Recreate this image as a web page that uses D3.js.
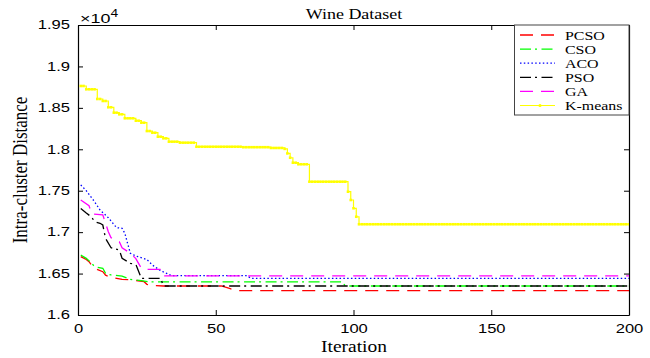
<!DOCTYPE html>
<html>
<head>
<meta charset="utf-8">
<script src="https://cdn.jsdelivr.net/npm/d3@7/dist/d3.min.js"></script>
<style>
  html, body { margin: 0; padding: 0; background: #fff; }
  svg { display: block; }
</style>
</head>
<body>
<svg id="chart" width="650" height="358"></svg>
<script>
// Convergence of intra-cluster distance (x 10^4) on the Wine dataset
const xTicks = [0, 50, 100, 150, 200];
const yTicks = [1.6, 1.65, 1.7, 1.75, 1.8, 1.85, 1.9, 1.95];
const yTickLabels = ["1.6", "1.65", "1.7", "1.75", "1.8", "1.85", "1.9", "1.95"];
const seriesNames = ["PCSO", "CSO", "ACO", "PSO", "GA", "K-means"];

const pcsoIter = [1, 3, 4, 5, 6, 9, 10, 12, 16, 19, 20, 24, 25, 27, 31, 52, 55, 58, 200];
const pcsoVal  = [1.6704, 1.667, 1.6643, 1.660, 1.6564, 1.6523, 1.648, 1.6455, 1.643, 1.6425, 1.6422, 1.6402, 1.637, 1.6355, 1.635, 1.635, 1.632, 1.6293, 1.6293];

const csoIter = [1, 3, 5, 6, 9, 10, 12, 16, 19, 23, 26, 96, 97, 200];
const csoVal  = [1.6724, 1.6684, 1.6624, 1.6583, 1.6564, 1.6503, 1.6483, 1.647, 1.643, 1.6414, 1.640, 1.640, 1.635, 1.635];

const acoIter = [1, 3, 6, 8, 11, 14, 16, 17, 18, 19, 21, 25, 27, 30, 34, 61, 63, 200];
const acoVal  = [1.757, 1.750, 1.7367, 1.7267, 1.7174, 1.7054, 1.7046, 1.6986, 1.6865, 1.6745, 1.6712, 1.667, 1.6603, 1.6535, 1.6475, 1.6475, 1.6443, 1.6443];

const psoIter = [1, 3, 5, 6, 8, 9, 10, 12, 15, 16, 19, 21, 23, 30, 31, 200];
const psoVal  = [1.7285, 1.7231, 1.718, 1.7126, 1.7107, 1.7086, 1.6925, 1.6812, 1.6784, 1.6684, 1.6624, 1.661, 1.6443, 1.6443, 1.635, 1.635];

const gaIter = [1, 4, 5, 9, 10, 11, 12, 15, 16, 19, 21, 23, 25, 30, 31, 200];
const gaVal  = [1.7388, 1.7319, 1.722, 1.7208, 1.711, 1.7006, 1.6933, 1.6885, 1.681, 1.6745, 1.668, 1.6564, 1.6551, 1.6551, 1.6471, 1.6471];

const kmIter = [1, 3, 7, 9, 11, 13, 15, 17, 21, 23, 25, 27, 29, 31, 33, 37, 43, 60, 70, 75, 76, 77, 78, 80, 84, 98, 99, 100, 101, 102, 200];
const kmVal  = [1.8764, 1.8724, 1.8607, 1.8583, 1.8507, 1.8442, 1.8422, 1.8374, 1.8345, 1.8321, 1.822, 1.820, 1.8152, 1.8132, 1.8092, 1.808, 1.8031, 1.8025, 1.8016, 1.8005, 1.795, 1.7898, 1.7838, 1.7819, 1.7609, 1.7488, 1.7388, 1.7288, 1.7186, 1.7095, 1.7095];

const svg = d3.select("#chart");
const L = 78, R = 629, T = 25, B = 315;
const x = d3.scaleLinear().domain([0, 200]).range([L, R]);
const y = d3.scaleLinear().domain([1.6, 1.95]).range([B, T]);

const SANS = "'Liberation Sans', Arial, sans-serif";
const SERIF = "'Liberation Serif', 'Times New Roman', serif";
const SX = 1.38;   // horizontal widening of the axis numerals
const SXS = 1.18;  // horizontal widening of the serif captions

const styles = [
  { name: "PCSO", color: "#ff0000", dash: "13,8" },
  { name: "CSO", color: "#00ff00", dash: "11,4,2,4.5" },
  { name: "ACO", color: "#0000ff", dash: "1.5,2.3" },
  { name: "PSO", color: "#000000", dash: "11,4,2,4.5" },
  { name: "GA", color: "#ff00ff", dash: "13,8" },
  { name: "K-means", color: "#ffff00", dash: null }
];

const zip = (it, v) => it.map((d, i) => ({ i: d, v: v[i] }));
const series = [
  zip(pcsoIter, pcsoVal), zip(csoIter, csoVal), zip(acoIter, acoVal),
  zip(psoIter, psoVal), zip(gaIter, gaVal), zip(kmIter, kmVal)
];

// axes: ticks point inward, box closed on all four sides
const gx = svg.append("g").attr("transform", `translate(0,${B})`)
  .call(d3.axisBottom(x).tickValues(xTicks).tickSizeInner(-5).tickSizeOuter(0).tickPadding(9));
const gy = svg.append("g").attr("transform", `translate(${L},0)`)
  .call(d3.axisLeft(y).tickValues(yTicks).tickFormat((d, i) => yTickLabels[i])
    .tickSizeInner(-5).tickSizeOuter(0).tickPadding(8));
const gt = svg.append("g").attr("transform", `translate(0,${T})`)
  .call(d3.axisTop(x).tickValues(xTicks).tickSizeInner(-5).tickSizeOuter(0).tickFormat(""));
const gr = svg.append("g").attr("transform", `translate(${R},0)`)
  .call(d3.axisRight(y).tickValues(yTicks).tickSizeInner(-5).tickSizeOuter(0).tickFormat(""));

[gx, gy, gt, gr].forEach(g => {
  g.selectAll("path.domain").attr("stroke", "#000").attr("stroke-width", 1.2);
  g.selectAll(".tick line").attr("stroke", "#000").attr("stroke-width", 1);
});
gx.selectAll("text").attr("font-family", SANS).attr("font-size", 12).attr("fill", "#000")
  .attr("transform", `scale(${SX},1)`);
gy.selectAll("text").attr("font-family", SANS).attr("font-size", 12).attr("fill", "#000")
  .attr("x", -8 / SX).attr("transform", `scale(${SX},1)`);

// plot lines
const clipId = "plotClip";
svg.append("clipPath").attr("id", clipId).append("rect")
  .attr("x", L).attr("y", T).attr("width", R - L).attr("height", B - T);
const plot = svg.append("g").attr("clip-path", `url(#${clipId})`);

const line = d3.line().x(d => x(d.i)).y(d => y(d.v));
const stepLine = d3.line().x(d => x(d.i)).y(d => y(d.v)).curve(d3.curveStepAfter);

// K-means: stepped line with a dot at every iteration
const km = series[5];
plot.append("path").datum(km).attr("d", stepLine)
  .attr("fill", "none").attr("stroke", styles[5].color).attr("stroke-width", 1.2);
const kmAt = k => kmVal[d3.bisectRight(kmIter, k) - 1];
plot.append("g").selectAll("rect")
  .data(d3.range(1, 201))
  .join("rect")
  .attr("x", k => x(k) - 1.3).attr("y", k => y(kmAt(k)) - 1.3)
  .attr("width", 2.6).attr("height", 2.6)
  .attr("fill", styles[5].color);

for (let s = 0; s < 5; s++) {
  plot.append("path").datum(series[s]).attr("d", line)
    .attr("fill", "none").attr("stroke", styles[s].color).attr("stroke-width", 1.3)
    .attr("stroke-dasharray", styles[s].dash);
}

// title and axis captions
function stretchedText(parent, tx, ty, txt, opts) {
  return parent.append("text")
    .attr("transform", `translate(${tx},${ty}) ${opts.rotate ? "rotate(-90) scale(1," + opts.s + ")" : "scale(" + opts.s + ",1)"}`)
    .attr("text-anchor", opts.anchor || "middle")
    .attr("font-family", opts.family).attr("font-size", opts.size).attr("fill", "#000")
    .text(txt);
}
stretchedText(svg, 354, 19, "Wine Dataset", { s: 1.2, family: SERIF, size: 15 });
stretchedText(svg, 354, 352, "Iteration", { s: SXS, family: SERIF, size: 16.5 });
stretchedText(svg, 27, 170, "Intra-cluster Distance", { rotate: true, s: SXS, family: SERIF, size: 17 });

// exponent of the y axis
const ex = svg.append("text").attr("transform", `translate(80,22.5) scale(${SX},1)`)
  .attr("font-family", SANS).attr("font-size", 13).attr("fill", "#000");
ex.append("tspan").text("\u00d710");
ex.append("tspan").attr("font-size", 10).attr("dy", -6).text("4");

// legend
const lg = svg.append("g");
const lgX = 514.5, lgY = 25, lgW = 114.5, lgH = 90;
lg.append("rect").attr("x", lgX).attr("y", lgY).attr("width", lgW).attr("height", lgH)
  .attr("fill", "#fff").attr("stroke", "#444").attr("stroke-width", 1);
styles.forEach((st, k) => {
  const ry = 35 + k * 14.1;
  lg.append("line").attr("x1", 520).attr("x2", 555).attr("y1", ry).attr("y2", ry)
    .attr("stroke", st.color).attr("stroke-width", st.dash ? 1.3 : 1)
    .attr("stroke-dasharray", st.dash);
  if (!st.dash) {
    lg.append("circle").attr("cx", 540).attr("cy", ry).attr("r", 1.6).attr("fill", st.color);
  }
  stretchedText(lg, 565, ry + 4.5, seriesNames[k], { s: SXS, family: SERIF, size: 13.5, anchor: "start" });
});
</script>
</body>
</html>
